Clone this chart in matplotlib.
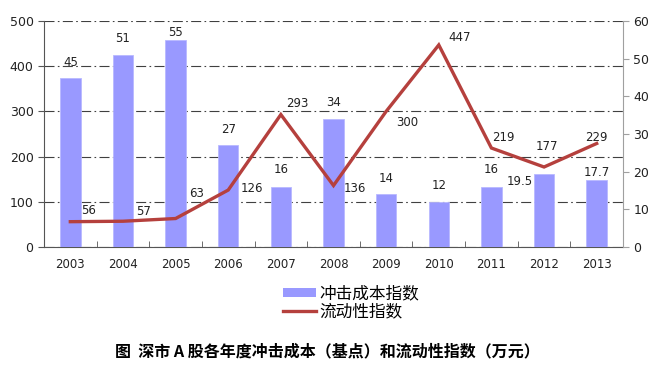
import matplotlib.pyplot as plt
from matplotlib.patches import Patch
from matplotlib.lines import Line2D

plt.rcParams["font.family"] = ["DejaVu Sans", "Noto Sans CJK SC"]

years = ["2003", "2004", "2005", "2006", "2007", "2008", "2009", "2010", "2011", "2012", "2013"]
cost_index = [45, 51, 55, 27, 16, 34, 14, 12, 16, 19.5, 17.7]          # 冲击成本指数 (right axis)
liquidity_index = [56, 57, 63, 126, 293, 136, 300, 447, 219, 177, 229]  # 流动性指数 (left axis)
cost_labels = ["45", "51", "55", "27", "16", "34", "14", "12", "16", "19.5", "17.7"]

# label offsets in pixels (dx, dy)
bar_off = [(0, 15), (0, 16), (0, 7), (0, 16), (0, 17), (0, 16), (0, 16), (0, 16), (0, 17), (-24, -8), (0, 8)]
line_off = [(18, 11), (21, 10), (21, 25), (24, 2), (16, 11), (21, -3), (21, -11), (21, 7), (12, 11), (3, 20), (0, 6)]

bar_color = "#9999FF"
line_color = "#B5403D"
grid_color = "#404040"

fig = plt.figure(figsize=(6.61, 3.67), dpi=100)
rect = [44 / 661, 1 - 247 / 367, (623 - 44) / 661, (247 - 21) / 367]

ax = fig.add_axes(rect)           # left scale, grid
ax2 = ax.twinx()                  # right scale, bars
ax3 = ax.twinx()                  # left scale again, line on top

x = list(range(len(years)))

ax.set_ylim(0, 500)
ax.set_yticks(range(0, 501, 100))
ax.set_xlim(-0.5, len(years) - 0.5)
ax.grid(axis="y", color=grid_color, linestyle=(0, (9, 3, 1.5, 3)), linewidth=0.8)
ax.set_axisbelow(True)

ax2.bar(x, cost_index, width=0.39, color=bar_color, edgecolor="#B8B8FF", linewidth=0.6, zorder=2)
ax2.set_ylim(0, 60)
ax2.set_yticks(range(0, 61, 10))

ax3.plot(x, liquidity_index, color=line_color, linewidth=2.4, solid_joinstyle="miter")
ax3.set_ylim(0, 500)
ax3.set_yticks([])
ax3.patch.set_visible(False)
for s in ax3.spines.values():
    s.set_visible(False)

for i, v in enumerate(cost_index):
    ax2.annotate(cost_labels[i], (x[i], v), xytext=bar_off[i], textcoords="offset pixels",
                 ha="center", va="center", fontsize=8.5, color="#222222")
for i, v in enumerate(liquidity_index):
    ax3.annotate(str(v), (x[i], v), xytext=line_off[i], textcoords="offset pixels",
                 ha="center", va="center", fontsize=8.5, color="#222222")

# spines and ticks
for a in (ax, ax2):
    a.spines["top"].set_visible(False)
ax.spines["left"].set_color("#555555")
ax.spines["bottom"].set_color("#555555")
ax.spines["right"].set_visible(False)
ax2.spines["left"].set_visible(False)
ax2.spines["bottom"].set_visible(False)
ax2.spines["right"].set_color("#A0A0A0")

ax.set_xticks(x)
ax.set_xticklabels(years)
ax.set_xticks([i + 0.5 for i in x[:-1]], minor=True)
ax.tick_params(axis="x", which="major", length=0, pad=8, labelsize=8.5, colors="#222222")
ax.tick_params(axis="x", which="minor", direction="in", length=4, color="#555555")
ax.tick_params(axis="y", length=4, color="#555555", labelsize=9, labelcolor="#222222")
ax2.tick_params(axis="y", length=4, color="#A0A0A0", labelsize=9, labelcolor="#222222")

handles = [Patch(facecolor=bar_color, edgecolor="none"),
           Line2D([0], [0], color=line_color, linewidth=2.4)]
fig.legend(handles, ["冲击成本指数", "流动性指数"], loc="center",
           bbox_to_anchor=(351 / 661, 1 - 303 / 367), frameon=False,
           prop={"family": "Noto Sans CJK SC", "size": 12},
           handlelength=2.0, handleheight=0.45, labelspacing=0.05, handletextpad=0.2,
           borderpad=0)

fig.text(327 / 661, 1 - 351 / 367, "图  深市 A 股各年度冲击成本（基点）和流动性指数（万元）",
         ha="center", va="center", fontsize=11.5, fontweight="bold",
         family=["Noto Sans CJK SC", "DejaVu Sans"])

fig.savefig("out.png", dpi=100)
